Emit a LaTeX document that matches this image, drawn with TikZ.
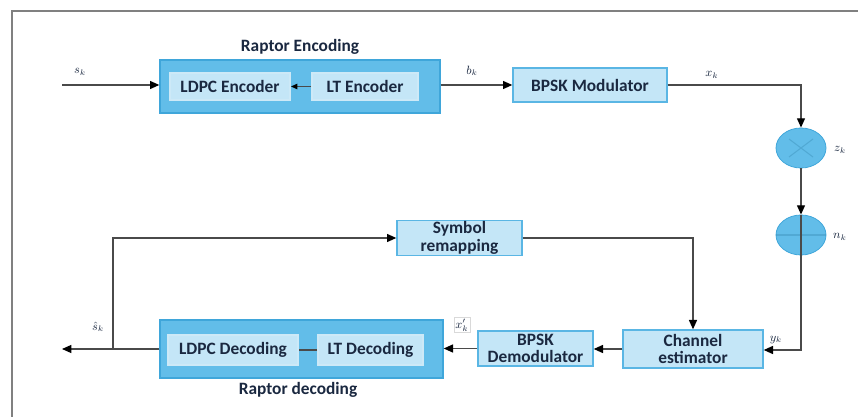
\documentclass[tikz,border=0pt]{standalone}
\usepackage{fontspec}
\setmainfont{Carlito}
\usetikzlibrary{arrows.meta,positioning,calc,shapes.geometric}
\definecolor{boxfill}{HTML}{C4E6F7}
\definecolor{boxline}{HTML}{5AB6E4}
\definecolor{outerfill}{HTML}{62BDE9}
\definecolor{outerline}{HTML}{3FA6DA}
\definecolor{navy}{HTML}{1A2840}
\definecolor{wire}{HTML}{4A4A4A}
\tikzset{
  blockfont/.style={font=\bfseries\fontsize{13}{13}\selectfont},
  blockbox/.style={draw=boxline, line width=1pt, fill=boxfill, text=navy,
    blockfont, align=center, inner sep=1pt},
  outerbox/.style={draw=outerline, line width=1pt, fill=outerfill, inner sep=0pt},
  innerbox/.style={draw=white!70!boxline, line width=1.2pt, fill=boxfill, text=navy,
    blockfont, align=center, inner sep=1pt},
  mixer/.style={ellipse, fill=outerfill, draw=outerline, line width=0.6pt, inner sep=0pt},
  sig/.style={font=\small, text=navy},
  wirearrow/.style={draw=wire, line width=1pt, -{Triangle[length=7pt,width=6pt,fill=black,color=black]}},
  wireline/.style={draw=wire, line width=1pt},
  caption/.style={blockfont, text=navy}
}
\begin{document}
\begin{tikzpicture}[x=0.75pt,y=-0.75pt]
  \useasboundingbox (0,0) rectangle (858,417);
  % page frame
  \draw[gray, line width=1pt] (12,417) -- (12,11) -- (858,11);

  % Raptor encoder
  \node[outerbox, minimum width=210pt, minimum height=39.75pt] (enc) at (300,86.5) {};
  \node[caption] (enccap) at (300,47) {Raptor Encoding};
  \node[innerbox, minimum width=90pt, minimum height=20.25pt] (ldpce) at (230,86.5) {LDPC Encoder};
  \node[innerbox, minimum width=79.5pt, minimum height=20.25pt] (lte) at (365,86.5) {LT Encoder};

  % modulator and channel
  \node[blockbox, minimum width=115.5pt, minimum height=25.5pt] (mod) at (590,85) {BPSK Modulator};
  \node[mixer, minimum width=37.5pt, minimum height=30pt] (mz) at (801,148) {};
  \node[mixer, minimum width=37.5pt, minimum height=30pt] (mn) at (801,235) {};
  \draw[outerline!80!black, opacity=0.35, line width=0.8pt]
    ($(mz)+(-12,-9)$) -- ($(mz)+(12,9)$) ($(mz)+(-12,9)$) -- ($(mz)+(12,-9)$);
  \draw[outerline!80!black, opacity=0.35, line width=0.8pt]
    (mn.west) -- (mn.east);

  % receiver
  \node[blockbox, minimum width=105pt, minimum height=28.5pt] (chest) at (693,349) {Channel\\estimator};
  \node[blockbox, minimum width=86.25pt, minimum height=26.25pt] (demod) at (535.5,348.5) {BPSK\\Demodulator};
  \node[blockbox, minimum width=93.75pt, minimum height=24pt] (remap) at (459.5,238) {Symbol\\remapping};

  % Raptor decoder
  \node[outerbox, minimum width=212.25pt, minimum height=43.5pt] (dec) at (301.5,349) {};
  \node[caption] (deccap) at (298,390) {Raptor decoding};
  \node[innerbox, minimum width=97.5pt, minimum height=22.5pt] (ldpcd) at (233,350) {LDPC Decoding};
  \node[innerbox, minimum width=78.75pt, minimum height=22.5pt] (ltd) at (370.5,350) {LT Decoding};

  % free ends and bends
  \coordinate (in) at (62,85);
  \coordinate (out) at (62,349);
  \coordinate (split) at (113,349);
  \coordinate (xbend) at (801,85);
  \coordinate (ybend) at (801,350);

  % transmitter connectors
  \draw[wirearrow] (in) -- (enc.west |- in);
  \draw[wirearrow, line width=1.4pt, -{Triangle[length=5pt,width=4pt,fill=black,color=black]}] (lte.west) -- (ldpce.east);
  \draw[wirearrow] (enc.east |- mod) -- (mod.west);
  \draw[wirearrow] (mod.east) -- (xbend) -- (mz.north);
  \draw[wirearrow] (mz.south) -- (mn.north);
  \draw[wireline] (mn.north) -- (mn.south);
  \draw[wirearrow] (mn.south) -- (ybend) -- (chest.east |- ybend);

  % receiver connectors
  \draw[wirearrow] (chest.west) -- (demod.east |- chest.west);
  \draw[wirearrow] (demod.west) -- (dec.east |- demod.west);
  \draw[wireline, line width=1.4pt] (ltd.west) -- (ldpcd.east);
  \draw[wirearrow] (dec.west) -- (out);
  \draw[wirearrow] (split) |- (remap.west);
  \draw[wirearrow] (remap.east) -| (chest.north);

  % signal labels
  \node[sig] (ls) at (80,72) {$s_k$};
  \node[sig] (lb) at (472,71) {$b_k$};
  \node[sig] (lx) at (712,75) {$x_k$};
  \node[sig] (lz) at (840,150) {$z_k$};
  \node[sig] (ln) at (840,237) {$n_k$};
  \node[sig] (ly) at (776,340) {$y_k$};
  \node[sig, fill=white, draw=gray!30, inner sep=1pt] (lxp) at (462,325) {$x'_k$};
  \node[sig] (lsh) at (98,327) {$\hat{s}_k$};
\end{tikzpicture}
\end{document}
